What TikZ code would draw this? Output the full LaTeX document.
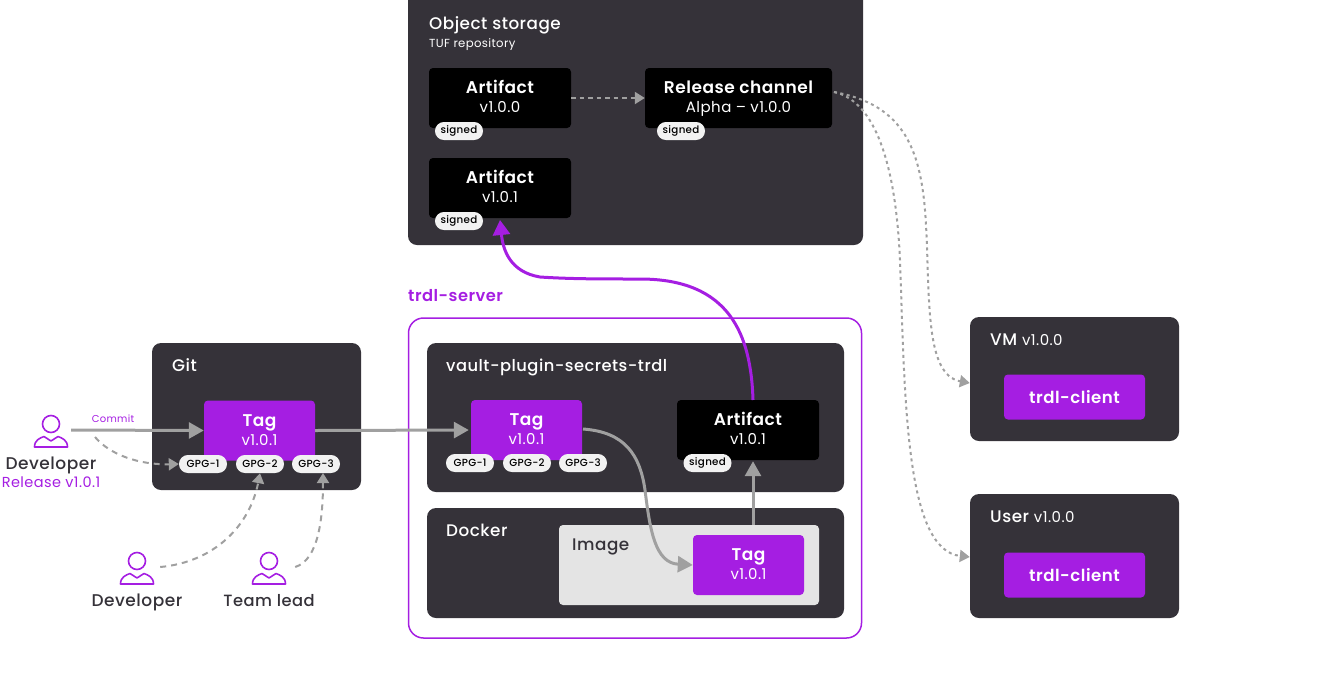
\documentclass[tikz,border=0pt]{standalone}
\usepackage{fontspec}
\setmainfont[LetterSpace=3,BoldFont={Poppins SemiBold}]{Poppins}
\newfontface\medfont[LetterSpace=3]{Poppins Medium}
\usetikzlibrary{arrows.meta}
\definecolor{darkbox}{HTML}{353239}
\definecolor{purplebox}{HTML}{A51EE2}
\definecolor{flowgray}{HTML}{A0A0A0}
\definecolor{pillgray}{HTML}{F2F2F2}
\definecolor{imagegray}{HTML}{E4E4E4}
\newcommand{\boxlabel}[2]{{\fontsize{17}{19}\selectfont\bfseries #1\rule[-5pt]{0pt}{19pt}}\\{\fontsize{15}{19}\selectfont #2\rule[-3.5pt]{0pt}{16.5pt}}}
\newcommand{\fs}[1]{\fontsize{#1}{#1}\selectfont}
\tikzset{
	boxdark/.style={fill=darkbox, rounded corners=9pt, minimum width=#1, inner sep=0pt},
	blackbox/.style={fill=black, text=white, rounded corners=4pt, minimum height=60pt, minimum width=#1, inner sep=0pt, align=center},
	tagbox/.style={fill=purplebox, text=white, rounded corners=4pt, minimum height=60pt, minimum width=111pt, inner sep=0pt, align=center},
	clientbox/.style={fill=purplebox, text=white, rounded corners=4pt, minimum height=45pt, minimum width=141pt, inner sep=0pt, font=\fs{16.6}\bfseries},
	pill/.style={fill=pillgray, text=black, rounded corners=8.9pt, minimum height=18pt, minimum width=48pt, inner sep=0pt, font=\fs{10.3}\medfont},
	title/.style={text=white, anchor=west, inner sep=0pt, text height=14pt, text depth=1pt, font=\fs{16.8}\medfont},
	caption/.style={text=darkbox, inner sep=0pt, text height=12pt, text depth=3pt, font=\fs{17}\medfont},
	person/.style={minimum size=#1, inner sep=0pt},
	flow/.style={draw=flowgray, line width=3pt, -{Triangle[length=15pt,width=16pt]}},
	flowdashed/.style={draw=flowgray, line width=2pt, dash pattern=on 6pt off 5pt, -{Triangle[length=10pt,width=12pt]}},
	flowdotted/.style={draw=flowgray, line width=2pt, dash pattern=on 3pt off 3.5pt, -{Triangle[length=10pt,width=12pt]}},
	personicon/.pic={
		\draw[purplebox, line width=1.6pt, fill=white] (0,-6) circle (8.5pt);
		\draw[purplebox, line width=1.6pt, line join=round] (-16.5,17) .. controls (-16.5,10) and (-11,8) .. (-7,6.5) -- (0,11) -- (7,6.5) .. controls (11,8) and (16.5,10) .. (16.5,17) -- cycle;
	}
}

\begin{document}
\begin{tikzpicture}[x=1pt, y=-1pt]
	\useasboundingbox (0,0) rectangle (1341,686);
	\clip (0,0) rectangle (1341,686);

	%Containers
	\fill[darkbox, rounded corners=9pt] (408,-20) rectangle (863,245);
	\node[draw=purplebox, line width=1.5pt, rounded corners=15pt, minimum width=453pt, minimum height=320pt, inner sep=0pt] (server) at (635,478) {};
	\node[boxdark=417pt, minimum height=149pt] (vault) at (635.5,417.5) {};
	\node[boxdark=417pt, minimum height=110pt] (docker) at (635.5,563) {};
	\node[fill=imagegray, rounded corners=4pt, minimum width=260pt, minimum height=80pt, inner sep=0pt] (image) at (689,565) {};
	\node[boxdark=209pt, minimum height=147pt] (git) at (256.5,416.5) {};
	\node[boxdark=209pt, minimum height=124pt] (vm) at (1074.5,379) {};
	\node[boxdark=209pt, minimum height=124pt] (user) at (1074.5,556) {};

	%Titles
	\node[title] (storagetitle) at (429,23) {Object storage};
	\node[title, font=\fs{11.7}] (tuftitle) at (429,41) {TUF repository};
	\node[anchor=west, inner sep=0pt, text height=12pt, text depth=3pt, text=purplebox, font=\fs{16.3}\bfseries] (servertitle) at (408,296.5) {trdl-server};
	\node[title, font=\fs{16.3}\medfont] (vaulttitle) at (446,364.5) {vault-plugin-secrets-trdl};
	\node[title] (dockertitle) at (446,529.5) {Docker};
	\node[title, text=darkbox] (imagetitle) at (572,543.5) {Image};
	\node[title] (gittitle) at (172,364.5) {Git};
	\node[title] (vmtitle) at (990,338.5) {VM {\fs{15}\rmfamily v1.0.0}};
	\node[title] (usertitle) at (990,515.5) {User {\fs{15}\rmfamily v1.0.0}};

	%Inner boxes
	\node[blackbox=142pt] (artifactA) at (500,98) {\boxlabel{Artifact}{v1.0.0}};
	\node[blackbox=187pt] (channel) at (738.5,98) {\boxlabel{Release channel}{Alpha -- v1.0.0}};
	\node[blackbox=142pt] (artifactB) at (500,188) {\boxlabel{Artifact}{v1.0.1}};
	\node[blackbox=142pt] (artifactC) at (748,430) {\boxlabel{Artifact}{v1.0.1}};
	\node[tagbox] (tagGit) at (259.5,430.5) {\boxlabel{Tag}{v1.0.1}};
	\node[tagbox] (tagVault) at (526.5,430) {\boxlabel{Tag}{v1.0.1}};
	\node[tagbox] (tagDocker) at (748.5,565) {\boxlabel{Tag}{v1.0.1}};
	\node[clientbox] (clientVm) at (1074.5,397) {trdl-client};
	\node[clientbox] (clientUser) at (1074.5,575) {trdl-client};

	%Pills
	\node[pill] (signedA) at (459,131) {signed};
	\node[pill] (signedB) at (681,131) {signed};
	\node[pill] (signedC) at (459,221) {signed};
	\node[pill] (signedD) at (707.5,463) {signed};
	\node[pill] (gpgA) at (203,464) {GPG-1};
	\node[pill] (gpgB) at (260,464) {GPG-2};
	\node[pill] (gpgC) at (316,464) {GPG-3};
	\node[pill] (gpgD) at (470,463) {GPG-1};
	\node[pill] (gpgE) at (527,463) {GPG-2};
	\node[pill] (gpgF) at (583,463) {GPG-3};

	%People
	\node[person=40pt] (devA) at (51,430) {};
	\node[person=46pt] (devB) at (137,567) {};
	\node[person=52pt] (lead) at (269,567) {};
	\pic at (devA) {personicon};
	\pic at (devB) {personicon};
	\pic at (lead) {personicon};
	\node[caption] (devAname) at (51,464.5) {Developer};
	\node[caption, text=purplebox, font=\fs{14.5}] (devArelease) at (51,483) {Release v1.0.1};
	\node[caption] (devBname) at (137,602) {Developer};
	\node[caption, font=\fs{16.3}\medfont] (leadname) at (269,602) {Team lead};
	\node[inner sep=0pt, text=purplebox, font=\fs{10}] (commit) at (113,419) {Commit};

	%Free ends
	\coordinate (devAlow) at (95,437);
	\coordinate (channelout) at (834,92);
	\coordinate (vaultout) at (583,429);
	\coordinate (artifactCin) at (753,400);
	\coordinate (artifactBin) at (500,220);
	\coordinate (gpgCin) at (323,473);

	%Lines
	\draw[flow] (devA.east) -- (tagGit.west);
	\draw[flow, shorten >=2pt] (tagGit.east) -- (tagVault.west);
	\draw[flowdashed] (devAlow) .. controls (110,455) and (140,465) .. (gpgA.west);
	\draw[flowdashed] (devB.east) .. controls (215,562) and (250,525) .. (gpgB.south);
	\draw[flowdashed] (lead.east) .. controls (318,560) and (323,520) .. (gpgCin);
	\draw[flow] (vaultout) .. controls (625,432) and (640,455) .. (645,490) .. controls (650,530) and (655,563) .. (tagDocker.west);
	\draw[flow, shorten >=1pt] (image.north -| artifactCin) -- (artifactCin |- artifactC.south);
	\draw[purplebox, line width=3pt, -{Triangle[length=15pt,width=17pt]}] (artifactCin) .. controls (751,335) and (730,279) .. (640,279) .. controls (600,279) and (570,279) .. (540,277) .. controls (510,272) and (503,250) .. (artifactBin);
	\draw[flowdashed, dash pattern=on 4.5pt off 4pt] (artifactA.east) -- (artifactA.east -| channel.west);
	\draw[flowdotted] (channelout) .. controls (905,105) and (922,150) .. (926,225) .. controls (930,300) and (925,375) .. (vm.west |- 0,383);
	\draw[flowdotted] (channelout) .. controls (870,100) and (895,150) .. (900,260) .. controls (905,400) and (905,550) .. (user.west |- 0,557);
\end{tikzpicture}
\end{document}
